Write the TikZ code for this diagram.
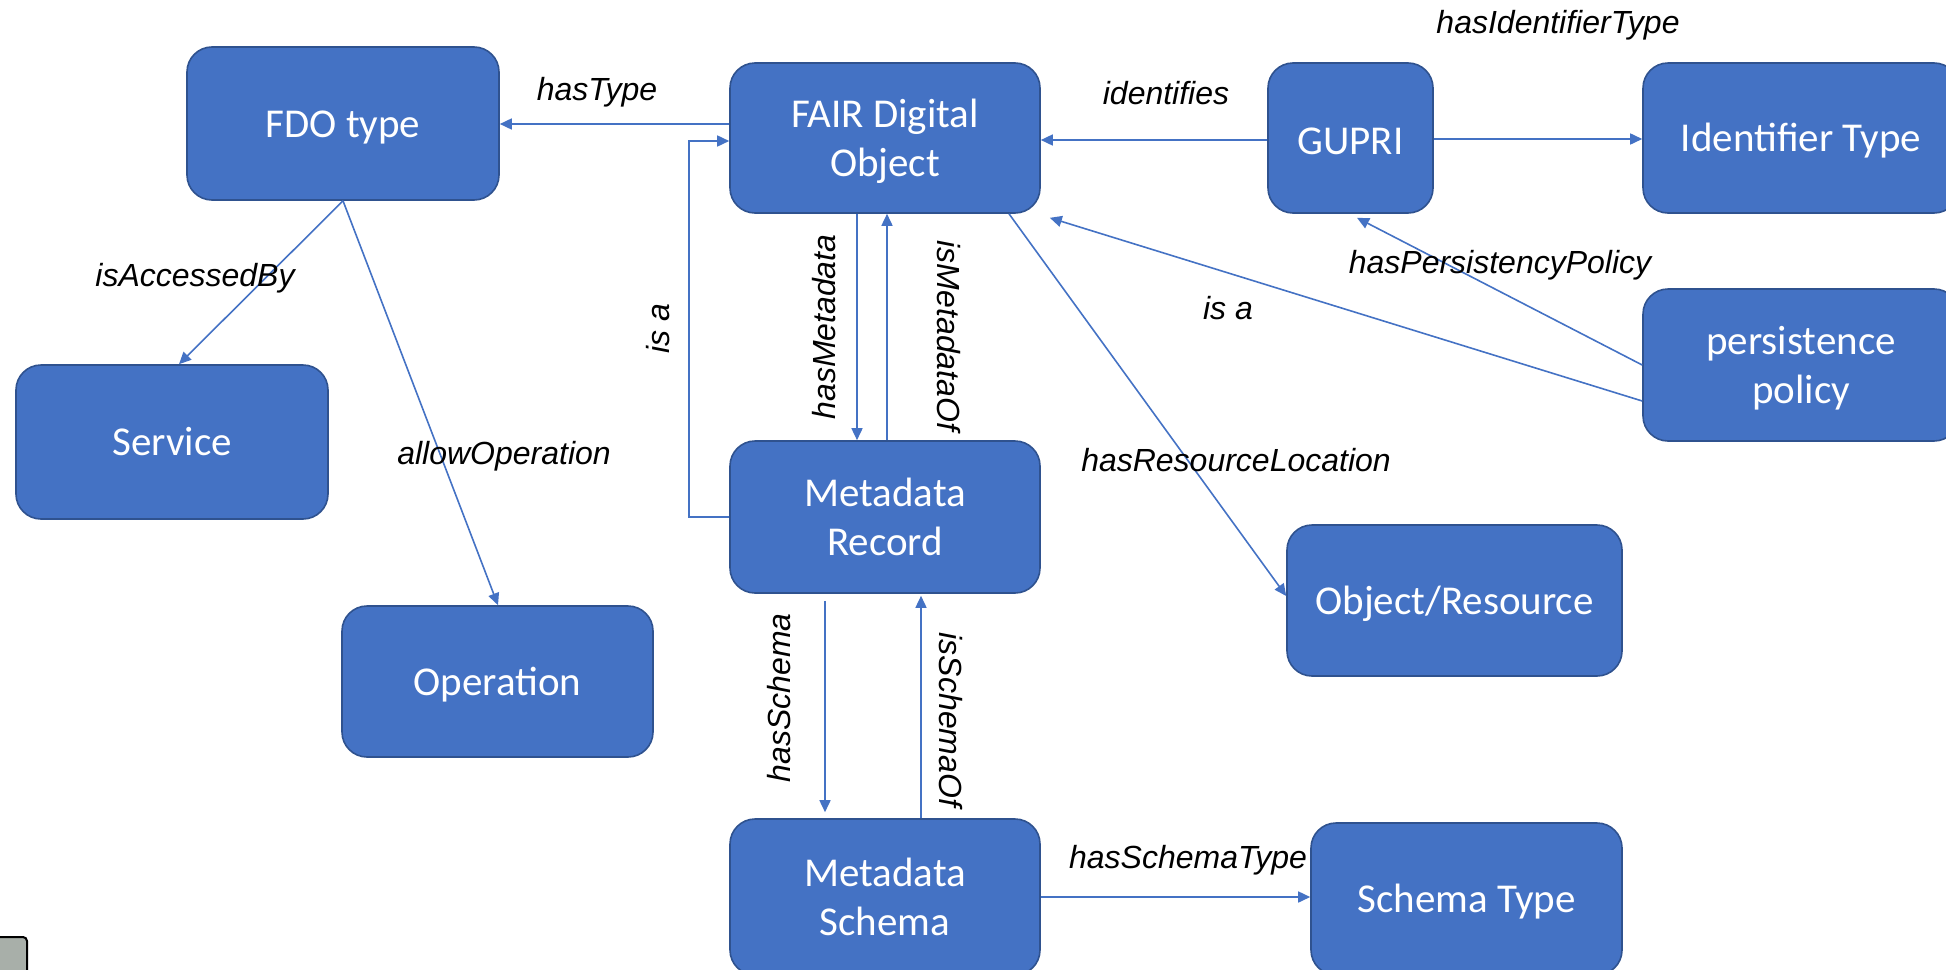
\documentclass[tikz,border=0pt]{standalone}
\usepackage{fontspec}
\setmainfont{Carlito}
\newfontfamily\lblfont{Liberation Sans}
\usetikzlibrary{arrows.meta}
\definecolor{fdoblue}{HTML}{4472C4}
\definecolor{fdoedge}{HTML}{2F528F}
\definecolor{stubgrey}{HTML}{A8AFA9}

\begin{document}
\begin{tikzpicture}[x=0.5pt,y=-0.5pt,
  entity/.style={draw=fdoedge, line width=0.8pt, fill=fdoblue, rounded corners=12.5pt,
    text=white, align=center, font=\fontsize{20.5}{24.3}\selectfont, inner sep=0pt,
    text height=18.5pt, text depth=5pt},
  twoline/.style={entity, text height=43pt, text depth=5pt},
  rel/.style={draw=fdoblue, line width=0.8pt, -{Triangle[length=6pt,width=5.5pt]}},
  lbl/.style={font=\lblfont\itshape\fontsize{16}{19}\selectfont, inner sep=0pt},
  stub/.style={draw=black, line width=1pt, fill=stubgrey, rounded corners=2pt, inner sep=0pt},
]
\useasboundingbox (0,0) rectangle (1946,969);
\clip (0,0) rectangle (1946,969);

% concept boxes
\node[entity, minimum width=156pt, minimum height=76.5pt] (fdotype) at (343,123.5) {FDO type};
\node[twoline, minimum width=155pt, minimum height=75pt] (fair) at (885,138) {FAIR Digital\\Object};
\node[entity, minimum width=82.5pt, minimum height=75pt, text height=21pt] (gupri) at (1350.5,138) {GUPRI};
\node[entity, minimum width=158pt, minimum height=75pt] (idtype) at (1801,138) {Identifier Type};
\node[twoline, minimum width=158pt, minimum height=76pt] (policy) at (1801,365) {persistence\\policy};
\node[entity, minimum width=156pt, minimum height=77pt] (service) at (172,442) {Service};
\node[twoline, minimum width=155pt, minimum height=76pt] (record) at (885,517) {Metadata\\Record};
\node[entity, minimum width=155.5pt, minimum height=75.5pt] (operation) at (497.5,681.5) {Operation};
\node[entity, minimum width=167.5pt, minimum height=75.5pt] (objres) at (1454.5,600.5) {Object/Resource};
\node[twoline, minimum width=155pt, minimum height=78pt] (schema) at (885,897) {Metadata\\Schema};
\node[entity, minimum width=155.5pt, minimum height=76pt] (schematype) at (1466.5,899) {Schema Type};

% small corner tab
\node[stub, minimum width=16pt, minimum height=21.5pt] (tab) at (11,958.5) {};

% relations
\draw[rel] (fair.west |- 0,124) -- (fdotype.east |- 0,124);
\draw[rel] (gupri.west |- 0,140) -- (fair.east |- 0,140);
\draw[rel] (gupri.east |- 0,139) -- (idtype.west |- 0,139);
\draw[rel] ([xshift=-14pt]fair.south) -- ([xshift=-14pt]record.north);
\draw[rel] ([xshift=1pt]record.north) -- ([xshift=1pt]fair.south);
\draw[rel] (record.west) -- ++(-40,0) |- ([yshift=-1.5pt]fair.west);
\draw[rel] (fdotype.south) -- (service.north -| 179,0);
\draw[rel] (fdotype.south) -- (operation.north -| 498,0);
\draw[rel] (fair.south -| 1009,0) -- (objres.west |- 0,596);
\draw[rel] (policy.west |- 0,401) -- ([shift={(9,4)}]fair.south east);
\draw[rel] (policy.west |- 0,365) -- ([xshift=3.25pt,yshift=-2pt]gupri.south);
\draw[rel] ([shift={(-60,7)}]record.south) -- ([shift={(-60,-6)}]schema.north);
\draw[rel] ([xshift=18pt]schema.north) -- ([shift={(36,2)}]record.south);
\draw[rel] (schema.east) -- (schematype.west |- schema.east);

% relation labels
\node[lbl] (l-hastype) at (597,92) {hasType};
\node[lbl] (l-identifies) at (1166,93) {identifies};
\node[lbl] (l-hasidtype) at (1558,25) {hasIdentifierType};
\node[lbl] (l-accessed) at (195,278) {isAccessedBy};
\node[lbl] (l-allowop) at (504,456) {allowOperation};
\node[lbl, rotate=90] (l-isa-left) at (658,329) {is a};
\node[lbl, rotate=90] (l-hasmeta) at (824,327) {hasMetadata};
\node[lbl, rotate=-90] (l-ismetaof) at (949,336) {isMetadataOf};
\node[lbl] (l-isa-policy) at (1228,308) {is a};
\node[lbl] (l-haspolicy) at (1500,265) {hasPersistencyPolicy};
\node[lbl] (l-hasloc) at (1236,460) {hasResourceLocation};
\node[lbl, rotate=90] (l-hasschema) at (779,698) {hasSchema};
\node[lbl, rotate=-90] (l-isschemaof) at (951,720) {isSchemaOf};
\node[lbl] (l-hasschematype) at (1188,860) {hasSchemaType};
\end{tikzpicture}
\end{document}
